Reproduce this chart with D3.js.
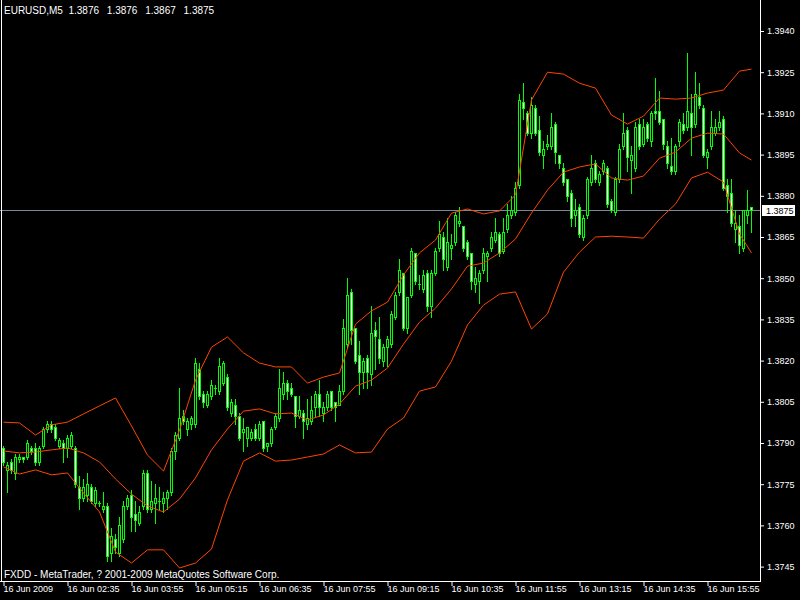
<!DOCTYPE html>
<html><head><meta charset="utf-8">
<script src="https://cdn.jsdelivr.net/npm/d3@7/dist/d3.min.js"></script>
<style>body{margin:0;background:#000;} svg{display:block;} text{white-space:pre;}</style>
</head><body><svg id="c" width="800" height="600"></svg>
<script>
// ---- data (EURUSD M5, 16 Jun 2009, bar 0 = 01:15) ----
const openP = [1.3788,1.3780,1.3783,1.3779,1.3784,1.3785,1.3785,1.3788,1.3788,1.3783,1.3789,1.3795,1.3797,1.3796,1.3789,1.3790,
1.3788,1.3789,1.3788,1.3774,1.3770,1.3771,1.3774,1.3768,1.3768,1.3766,1.3767,1.3750,1.3755,1.3750,1.3755,1.3767,
1.3771,1.3764,1.3761,1.3767,1.3779,1.3766,1.3768,1.3769,1.3768,1.3770,1.3772,1.3787,1.3792,1.3800,1.3795,1.3797,
1.3797,1.3817,1.3808,1.3804,1.3807,1.3810,1.3809,1.3812,1.3814,1.3801,1.3804,1.3800,1.3794,1.3792,1.3792,1.3795,
1.3792,1.3798,1.3789,1.3790,1.3796,1.3799,1.3808,1.3812,1.3810,1.3807,1.3800,1.3801,1.3797,1.3798,1.3803,1.3808,
1.3801,1.3803,1.3809,1.3805,1.3804,1.3809,1.3826,1.3845,1.3832,1.3822,1.3816,1.3821,1.3815,1.3831,1.3828,1.3820,
1.3825,1.3826,1.3836,1.3845,1.3852,1.3832,1.3844,1.3859,1.3848,1.3846,1.3852,1.3840,1.3852,1.3861,1.3865,1.3854,
1.3861,1.3863,1.3870,1.3869,1.3863,1.3859,1.3848,1.3849,1.3853,1.3858,1.3861,1.3864,1.3866,1.3860,1.3868,1.3873,
1.3874,1.3884,1.3914,1.3910,1.3903,1.3912,1.3904,1.3895,1.3898,1.3898,1.3906,1.3895,1.3890,1.3886,1.3881,1.3873,
1.3876,1.3865,1.3873,1.3885,1.3892,1.3885,1.3889,1.3890,1.3878,1.3874,1.3886,1.3898,1.3904,1.3893,1.3890,1.3906,
1.3899,1.3906,1.3900,1.3911,1.3911,1.3908,1.3898,1.3891,1.3889,1.3900,1.3906,1.3905,1.3910,1.3906,1.3916,1.3912,
1.3894,1.3898,1.3903,1.3905,1.3908,1.3884,1.3881,1.3868,1.3869,1.3861,1.3873,1.3876];
const highP = [1.3789,1.3783,1.3784,1.3786,1.3786,1.3785,1.3791,1.3789,1.3790,1.3789,1.3796,1.3798,1.3798,1.3797,1.3792,1.3791,
1.3793,1.3794,1.3789,1.3778,1.3777,1.3779,1.3775,1.3774,1.3769,1.3772,1.3768,1.3759,1.3757,1.3763,1.3769,1.3771,
1.3773,1.3769,1.3767,1.3780,1.3780,1.3776,1.3775,1.3774,1.3772,1.3773,1.3788,1.3794,1.3810,1.3802,1.3799,1.3800,
1.3821,1.3819,1.3809,1.3809,1.3813,1.3811,1.3821,1.3820,1.3815,1.3806,1.3806,1.3801,1.3799,1.3796,1.3795,1.3797,
1.3798,1.3798,1.3790,1.3796,1.3801,1.3817,1.3816,1.3813,1.3812,1.3807,1.3807,1.3802,1.3806,1.3807,1.3809,1.3813,
1.3805,1.3809,1.3809,1.3805,1.3811,1.3835,1.3850,1.3846,1.3832,1.3827,1.3821,1.3822,1.3840,1.3834,1.3836,1.3826,
1.3829,1.3838,1.3845,1.3857,1.3852,1.3843,1.3861,1.3859,1.3851,1.3853,1.3853,1.3853,1.3861,1.3871,1.3867,1.3872,
1.3866,1.3874,1.3876,1.3869,1.3864,1.3859,1.3854,1.3853,1.3861,1.3860,1.3867,1.3872,1.3867,1.3872,1.3877,1.3880,
1.3885,1.3917,1.3921,1.3911,1.3916,1.3913,1.3909,1.3900,1.3902,1.3910,1.3907,1.3895,1.3892,1.3886,1.3882,1.3879,
1.3877,1.3873,1.3887,1.3895,1.3893,1.3889,1.3893,1.3891,1.3879,1.3887,1.3899,1.3910,1.3905,1.3898,1.3907,1.3908,
1.3908,1.3907,1.3911,1.3923,1.3918,1.3908,1.3900,1.3901,1.3899,1.3908,1.3910,1.3932,1.3917,1.3925,1.3921,1.3913,
1.3897,1.3911,1.3908,1.3911,1.3909,1.3886,1.3886,1.3875,1.3873,1.3875,1.3882,1.3876];
const lowP = [1.3782,1.3772,1.3779,1.3777,1.3783,1.3783,1.3784,1.3786,1.3782,1.3782,1.3788,1.3794,1.3794,1.3791,1.3788,1.3783,
1.3785,1.3788,1.3774,1.3766,1.3769,1.3769,1.3768,1.3767,1.3767,1.3765,1.3747,1.3747,1.3750,1.3749,1.3754,1.3766,
1.3758,1.3758,1.3760,1.3766,1.3765,1.3765,1.3761,1.3766,1.3765,1.3766,1.3771,1.3784,1.3791,1.3797,1.3793,1.3795,
1.3796,1.3806,1.3803,1.3803,1.3806,1.3808,1.3808,1.3811,1.3802,1.3800,1.3797,1.3791,1.3787,1.3789,1.3791,1.3791,
1.3791,1.3787,1.3787,1.3789,1.3795,1.3798,1.3806,1.3806,1.3807,1.3796,1.3799,1.3792,1.3795,1.3797,1.3800,1.3800,
1.3798,1.3802,1.3802,1.3798,1.3804,1.3808,1.3825,1.3826,1.3819,1.3808,1.3810,1.3810,1.3811,1.3817,1.3819,1.3818,
1.3818,1.3825,1.3835,1.3844,1.3831,1.3830,1.3843,1.3848,1.3846,1.3845,1.3838,1.3836,1.3851,1.3860,1.3853,1.3853,
1.3857,1.3862,1.3869,1.3860,1.3857,1.3846,1.3845,1.3841,1.3852,1.3849,1.3860,1.3863,1.3858,1.3859,1.3867,1.3872,
1.3873,1.3883,1.3908,1.3902,1.3901,1.3902,1.3895,1.3890,1.3897,1.3897,1.3892,1.3890,1.3884,1.3878,1.3869,1.3869,
1.3865,1.3864,1.3872,1.3884,1.3885,1.3884,1.3888,1.3876,1.3874,1.3873,1.3885,1.3897,1.3889,1.3881,1.3889,1.3897,
1.3898,1.3900,1.3898,1.3908,1.3906,1.3897,1.3890,1.3888,1.3888,1.3898,1.3903,1.3904,1.3895,1.3905,1.3912,1.3894,
1.3890,1.3897,1.3902,1.3904,1.3882,1.3874,1.3869,1.3863,1.3859,1.3860,1.3870,1.3867];
const closeP = [1.3783,1.3782,1.3780,1.3785,1.3785,1.3784,1.3790,1.3787,1.3783,1.3788,1.3795,1.3797,1.3795,1.3792,1.3791,1.3788,
1.3792,1.3793,1.3775,1.3770,1.3774,1.3775,1.3769,1.3773,1.3768,1.3767,1.3749,1.3756,1.3752,1.3760,1.3767,1.3770,
1.3763,1.3762,1.3765,1.3779,1.3766,1.3769,1.3770,1.3769,1.3770,1.3772,1.3787,1.3793,1.3799,1.3798,1.3798,1.3799,
1.3819,1.3807,1.3805,1.3808,1.3811,1.3810,1.3818,1.3819,1.3803,1.3805,1.3800,1.3792,1.3795,1.3796,1.3794,1.3792,
1.3797,1.3788,1.3790,1.3795,1.3800,1.3810,1.3812,1.3809,1.3808,1.3800,1.3802,1.3798,1.3799,1.3802,1.3808,1.3803,
1.3803,1.3808,1.3803,1.3803,1.3809,1.3832,1.3844,1.3831,1.3820,1.3816,1.3820,1.3816,1.3830,1.3829,1.3821,1.3825,
1.3828,1.3837,1.3844,1.3853,1.3832,1.3843,1.3860,1.3849,1.3848,1.3851,1.3840,1.3852,1.3860,1.3866,1.3857,1.3863,
1.3862,1.3873,1.3871,1.3861,1.3858,1.3849,1.3850,1.3852,1.3859,1.3859,1.3865,1.3867,1.3859,1.3867,1.3873,1.3875,
1.3883,1.3915,1.3912,1.3903,1.3913,1.3903,1.3896,1.3897,1.3899,1.3905,1.3896,1.3892,1.3885,1.3880,1.3872,1.3875,
1.3866,1.3872,1.3886,1.3890,1.3886,1.3888,1.3892,1.3877,1.3875,1.3886,1.3897,1.3903,1.3894,1.3895,1.3905,1.3898,
1.3905,1.3901,1.3910,1.3910,1.3907,1.3899,1.3892,1.3889,1.3898,1.3907,1.3904,1.3911,1.3905,1.3917,1.3913,1.3895,
1.3896,1.3905,1.3905,1.3907,1.3883,1.3880,1.3870,1.3870,1.3862,1.3875,1.3875,1.3875];

// Bollinger bands at every 4th bar
const bandBars = [0,4,8,12,16,20,24,28,32,36,40,44,48,52,56,60,64,68,72,76,80,84,88,92,96,100,104,108,112,116,120,124,128,132,136,140,144,148,152,156,160,164,168,172,176,180,184,187];
const bandUpper = [1.37976,1.37973,1.37929,1.37966,1.37976,1.38006,1.38035,1.38064,1.37962,1.37856,1.37798,1.37947,1.38129,1.38249,1.38286,1.38228,
1.38191,1.38177,1.38177,1.38118,1.38140,1.38155,1.38333,1.38381,1.38413,1.38512,1.38592,1.38639,1.38737,1.38752,1.38734,1.38745,
1.38803,1.39149,1.39250,1.39243,1.39210,1.39192,1.39094,1.39061,1.39090,1.39156,1.39152,1.39156,1.39174,1.39185,1.39254,1.39261];
const bandMiddle = [1.37871,1.37864,1.37867,1.37875,1.37882,1.37864,1.37831,1.37769,1.37714,1.37671,1.37649,1.37696,1.37773,1.37875,1.37951,1.38016,
1.38024,1.38006,1.38009,1.37984,1.38002,1.38042,1.38107,1.38129,1.38173,1.38260,1.38340,1.38391,1.38461,1.38544,1.38555,1.38592,
1.38643,1.38737,1.38821,1.38886,1.38905,1.38916,1.38865,1.38857,1.38872,1.38937,1.38959,1.39010,1.39028,1.39025,1.38956,1.38930];
const bandLower = [1.37813,1.37787,1.37802,1.37784,1.37791,1.37718,1.37649,1.37503,1.37463,1.37511,1.37511,1.37445,1.37463,1.37514,1.37693,1.37834,
1.37864,1.37834,1.37838,1.37849,1.37860,1.37893,1.37864,1.37867,1.37951,1.37991,1.38089,1.38104,1.38198,1.38330,1.38402,1.38442,
1.38450,1.38315,1.38370,1.38522,1.38595,1.38650,1.38653,1.38650,1.38646,1.38715,1.38770,1.38865,1.38886,1.38850,1.38661,1.38592];

const priceTicks = [1.3940,1.3925,1.3910,1.3895,1.3880,1.3865,1.3850,1.3835,1.3820,1.3805,1.3790,1.3775,1.3760,1.3745];
const timeTickBars = [0,16,32,48,64,80,96,112,128,144,160,176];
const timeTickLabels = ["16 Jun 2009","16 Jun 02:35","16 Jun 03:55","16 Jun 05:15","16 Jun 06:35","16 Jun 07:55","16 Jun 09:15","16 Jun 10:35","16 Jun 11:55","16 Jun 13:15","16 Jun 14:35","16 Jun 15:55"];
const bidPrice = 1.3875;
const titleSymbol = "EURUSD,M5";
const titleOHLC = ["1.3876","1.3876","1.3867","1.3875"];
const footerText = "FXDD - MetaTrader, ? 2001-2009 MetaQuotes Software Corp.";

// ---- drawing ----
const FONT = "'Liberation Sans', Arial, sans-serif";
const svg = d3.select("#c");
svg.append("rect").attr("width",800).attr("height",600).attr("fill","#000");

const x = d3.scaleLinear().domain([0,187]).range([3,751]);
const y = d3.scaleLinear().domain([1.3745,1.3940]).range([566.6,31]);
const ry = v => Math.round(y(v));

const bars = d3.range(openP.length).map(i => ({i,o:openP[i],h:highP[i],l:lowP[i],c:closeP[i]}));

// bid line
svg.append("line").attr("x1",0).attr("x2",761).attr("y1",ry(bidPrice)+0.5).attr("y2",ry(bidPrice)+0.5)
  .attr("stroke","#778899").attr("stroke-width",1);

const gC = svg.append("g").attr("shape-rendering","crispEdges");
gC.selectAll("rect.wick").data(bars).join("rect").attr("class","wick")
  .attr("x",d=>x(d.i)).attr("width",1)
  .attr("y",d=>ry(d.h)).attr("height",d=>ry(d.l)-ry(d.h)+1).attr("fill","#00ff00");
gC.selectAll("rect.body").data(bars).join("rect").attr("class","body")
  .attr("x",d=>x(d.i)-1).attr("width",3)
  .attr("y",d=>ry(Math.max(d.o,d.c))).attr("height",d=>ry(Math.min(d.o,d.c))-ry(Math.max(d.o,d.c))+1)
  .attr("fill","#00ff00");
gC.selectAll("rect.inner").data(bars.filter(d=>ry(Math.min(d.o,d.c))-ry(Math.max(d.o,d.c))>1)).join("rect").attr("class","inner")
  .attr("x",d=>x(d.i)).attr("width",1)
  .attr("y",d=>ry(Math.max(d.o,d.c))+1).attr("height",d=>ry(Math.min(d.o,d.c))-ry(Math.max(d.o,d.c))-1)
  .attr("fill",d=>d.c<d.o?"#ffffff":"#000000");

// Bollinger bands
const line = d3.line().x(d=>x(d[0])+0.5).y(d=>y(d[1]));
[bandUpper,bandMiddle,bandLower].forEach(arr=>{
  svg.append("path").datum(bandBars.map((b,k)=>[b,arr[k]])).attr("d",line)
    .attr("fill","none").attr("stroke","#ff4500").attr("stroke-width",1);
});

// frame lines
svg.append("line").attr("x1",760.5).attr("x2",760.5).attr("y1",0).attr("y2",582).attr("stroke","#fff");
svg.append("line").attr("x1",0).attr("x2",761).attr("y1",581.5).attr("y2",581.5).attr("stroke","#fff");
svg.append("line").attr("x1",1.5).attr("x2",1.5).attr("y1",0).attr("y2",582).attr("stroke","#fff");

// price axis
const gy = svg.append("g").attr("transform","translate(761,0)")
  .call(d3.axisRight(y).tickValues(priceTicks).tickSize(3).tickPadding(3).tickFormat(d3.format(".4f")));
gy.select(".domain").remove();
gy.attr("font-family",FONT).attr("font-size",9);
gy.selectAll(".tick line").attr("stroke","#fff");
gy.selectAll(".tick text").attr("fill","#fff");

// bid price label
const by = ry(bidPrice);
svg.append("rect").attr("x",762).attr("y",by-5).attr("width",33).attr("height",11).attr("fill","#fff");
svg.append("text").attr("x",766).attr("y",by+4).attr("font-family",FONT).attr("font-size",9).attr("fill","#000").text(d3.format(".4f")(bidPrice));

// time axis
const gx = svg.append("g").attr("transform","translate(0,581)")
  .call(d3.axisBottom(x).tickValues(timeTickBars).tickSize(5).tickFormat((d,i)=>timeTickLabels[i]));
gx.select(".domain").remove();
gx.attr("font-family",FONT).attr("font-size",9);
gx.selectAll(".tick line").attr("stroke","#fff").attr("transform","translate(0.5,0)");
gx.selectAll(".tick text").attr("fill","#fff").attr("text-anchor","start").attr("x",0).attr("y",5).attr("dy","0.71em");

// texts
const title = svg.append("text").attr("x",4).attr("y",14).attr("font-family",FONT).attr("font-size",10).attr("fill","#fff");
title.append("tspan").text(titleSymbol + "  ");
title.append("tspan").attr("word-spacing","5px").text(titleOHLC.join(" "));
svg.append("text").attr("x",4).attr("y",578).attr("font-family",FONT).attr("font-size",10).attr("fill","#fff").text(footerText);
</script></body></html>
